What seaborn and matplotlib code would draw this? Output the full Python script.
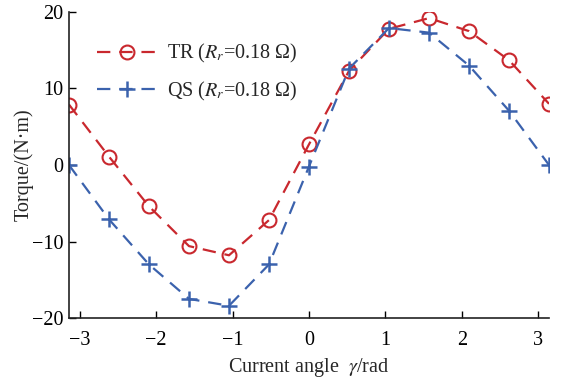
import numpy as np
import pandas as pd
import matplotlib
matplotlib.use('Agg')
import matplotlib.pyplot as plt
import seaborn as sns

# current angle gamma (rad), steps of pi/6
angle = [-3.1416, -2.618, -2.0944, -1.5708, -1.0472, -0.5236, 0.0,
         0.5236, 1.0472, 1.5708, 2.0944, 2.618, 3.1416]
torque_tr = [7.9, 1.1, -5.4, -10.6, -11.8, -7.2, 2.7,
             12.3, 17.8, 19.2, 17.5, 13.7, 8.0]
torque_qs = [0.0, -7.1, -13.0, -17.5, -18.4, -13.0, -0.2,
             12.6, 17.9, 17.3, 13.0, 7.1, 0.0]

df = pd.DataFrame({'angle': angle, 'TR': torque_tr, 'QS': torque_qs})

sns.set_style('ticks')
plt.rcParams['font.family'] = ['Liberation Serif', 'DejaVu Serif']
plt.rcParams['mathtext.fontset'] = 'stix'

fig = plt.figure(figsize=(5.64, 3.82), dpi=100)
ax = fig.add_axes([0.1223, 0.1675, 0.8511, 0.8011])

red = '#c9282e'
blue = '#3b62ad'

sns.lineplot(data=df, x='angle', y='TR', ax=ax, color=red, lw=1.6,
             linestyle=(0, (6, 4)), marker='o', markersize=10,
             markerfacecolor='none', markeredgecolor=red, markeredgewidth=1.5,
             label=r'TR ($R_r$=0.18 Ω)')
sns.lineplot(data=df, x='angle', y='QS', ax=ax, color=blue, lw=1.6,
             linestyle=(0, (6, 4)), marker='+', markersize=11,
             markeredgecolor=blue, markeredgewidth=1.8,
             label=r'QS ($R_r$=0.18 Ω)')

ax.set_xlim(-np.pi, np.pi)
ax.set_ylim(-20, 20)
ax.set_xticks([-3, -2, -1, 0, 1, 2, 3])
ax.set_yticks([-20, -10, 0, 10, 20])
ax.tick_params(direction='in', length=5, width=1, labelsize=14.5, colors='black', pad=4)
ax.tick_params(axis='x', pad=9)
for s in ['top', 'right']:
    ax.spines[s].set_visible(False)
for s in ['left', 'bottom']:
    ax.spines[s].set_linewidth(1.2)
    ax.spines[s].set_color('#222222')

ax.set_xlabel(r'Current angle  $\gamma$/rad', fontsize=14.5, labelpad=5)
ax.set_ylabel('Torque/(N·m)', fontsize=14.5, labelpad=-1)

ax.legend(loc='upper left', bbox_to_anchor=(0.02, 0.96), frameon=False,
          fontsize=14.5, handlelength=3.0, handletextpad=0.5, labelspacing=0.7)

fig.savefig('out.png', dpi=100)
